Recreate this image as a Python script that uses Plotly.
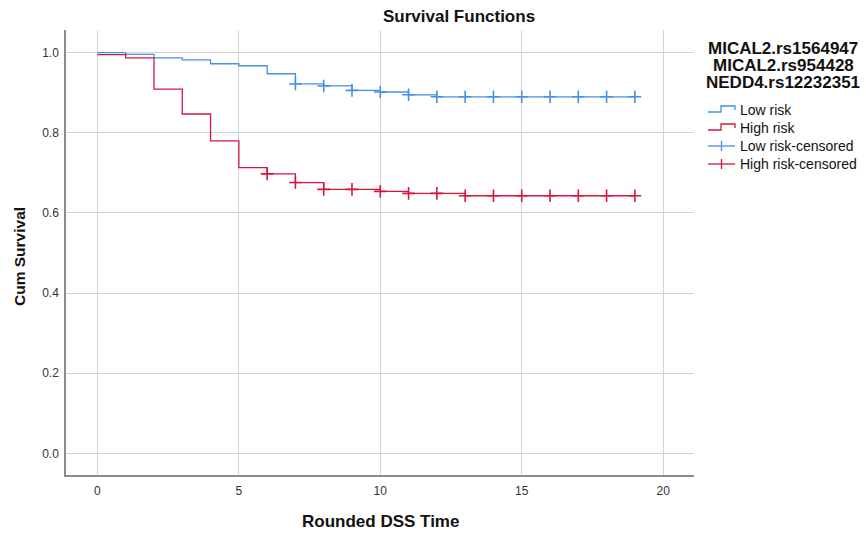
import plotly.graph_objects as go

# ---- data ----
time_points = list(range(0, 20))
low_risk_surv = [1.000, 0.996, 0.987, 0.982, 0.9725, 0.9675, 0.9475, 0.922, 0.917, 0.906,
                 0.902, 0.895, 0.890, 0.890, 0.890, 0.890, 0.890, 0.890, 0.890, 0.890]
high_risk_surv = [0.995, 0.987, 0.909, 0.847, 0.780, 0.713, 0.6975, 0.676, 0.659, 0.659,
                  0.654, 0.649, 0.649, 0.643, 0.643, 0.643, 0.643, 0.643, 0.643, 0.643]
low_risk_censor_times = [7, 8, 9, 10, 11, 12, 13, 14, 15, 16, 17, 18, 19]
high_risk_censor_times = [6, 7, 8, 9, 10, 11, 12, 13, 14, 15, 16, 17, 18, 19]
x_ticks = [0, 5, 10, 15, 20]
y_ticks = [0.0, 0.2, 0.4, 0.6, 0.8, 1.0]
legend_title_lines = ["MICAL2.rs1564947", "MICAL2.rs954428", "NEDD4.rs12232351"]
legend_labels = ["Low risk", "High risk", "Low risk-censored", "High risk-censored"]

BLUE = "#4A90E2"
RED = "#D4173F"
FONT = "Liberation Sans, Arial, sans-serif"

W, H = 866, 533
L, R, T, B = 66, 694, 30, 475  # plot area in pixels


def px(xp):
    return (xp - L) / (R - L)


def py(yp):
    return (B - yp) / (B - T)


def lookup(times, surv, t):
    return surv[times.index(t)]


fig = go.Figure()
fig.add_trace(go.Scatter(x=time_points, y=low_risk_surv, mode="lines",
                         line=dict(color=BLUE, width=1.3, shape="hv"), name=legend_labels[0]))
fig.add_trace(go.Scatter(x=time_points, y=high_risk_surv, mode="lines",
                         line=dict(color=RED, width=1.3, shape="hv"), name=legend_labels[1]))
fig.add_trace(go.Scatter(x=low_risk_censor_times,
                         y=[lookup(time_points, low_risk_surv, t) for t in low_risk_censor_times],
                         mode="markers", name=legend_labels[2],
                         marker=dict(symbol="cross-thin", size=9, line=dict(color=BLUE, width=1.6))))
fig.add_trace(go.Scatter(x=high_risk_censor_times,
                         y=[lookup(time_points, high_risk_surv, t) for t in high_risk_censor_times],
                         mode="markers", name=legend_labels[3],
                         marker=dict(symbol="cross-thin", size=9, line=dict(color=RED, width=1.6))))

annotations = []
shapes = []
# title
annotations.append(dict(text="<b>Survival Functions</b>", x=px(459), y=py(16), xref="paper", yref="paper",
                        showarrow=False, xanchor="center", yanchor="middle",
                        font=dict(family=FONT, size=17, color="#111")))
# legend title
for i, line in enumerate(legend_title_lines):
    annotations.append(dict(text="<b>%s</b>" % line, x=px(783), y=py(48.5 + 16.8 * i), xref="paper", yref="paper",
                            showarrow=False, xanchor="center", yanchor="middle", height=16, valign="middle",
                            font=dict(family=FONT, size=17, color="#111")))
# legend items
item_y = [110, 128, 146, 164]
colors = [BLUE, RED, BLUE, RED]
for i, (lab, yc, col) in enumerate(zip(legend_labels, item_y, colors)):
    annotations.append(dict(text=lab, x=px(738), y=py(yc), xref="paper", yref="paper",
                            showarrow=False, xanchor="left", yanchor="middle",
                            font=dict(family=FONT, size=14, color="#111")))
    if i < 2:
        pts = [(708, yc + 2), (721, yc + 2), (721, yc - 4), (735, yc - 4), (735, yc)]
        path = "M " + " L ".join("%f,%f" % (px(a), py(b)) for a, b in pts)
        shapes.append(dict(type="path", path=path, xref="paper", yref="paper",
                           line=dict(color=col, width=1.3)))
    else:
        shapes.append(dict(type="line", x0=px(708), x1=px(735), y0=py(yc), y1=py(yc),
                           xref="paper", yref="paper", line=dict(color=col, width=1.3)))
        shapes.append(dict(type="line", x0=px(721.5), x1=px(721.5), y0=py(yc - 5), y1=py(yc + 5),
                           xref="paper", yref="paper", line=dict(color=col, width=1.3)))
# axis titles
annotations.append(dict(text="<b>Rounded DSS Time</b>", x=px(380), y=py(521), xref="paper", yref="paper",
                        showarrow=False, xanchor="center", yanchor="middle",
                        font=dict(family=FONT, size=17, color="#111")))
annotations.append(dict(text="<b>Cum Survival</b>", x=px(19), y=py(257), xref="paper", yref="paper",
                        showarrow=False, xanchor="center", yanchor="middle", textangle=-90,
                        font=dict(family=FONT, size=15.5, color="#111")))

fig.update_layout(
    width=W, height=H,
    margin=dict(l=L, r=W - R, t=T, b=H - B, pad=0),
    plot_bgcolor="white", paper_bgcolor="white",
    showlegend=False,
    annotations=annotations, shapes=shapes,
    font=dict(family=FONT, size=12, color="#333"),
)
fig.update_xaxes(range=[-1.11, 21.09], tickvals=x_ticks, ticktext=[str(v) for v in x_ticks],
                 showgrid=True, gridcolor="#D4D4D4", gridwidth=1.3, zeroline=False,
                 showline=True, linecolor="#8C8C8C", linewidth=1.5, ticks="",
                 ticklabelstandoff=4, tickfont=dict(family=FONT, size=12, color="#333"))
fig.update_yaxes(range=[-0.054, 1.0567], tickvals=y_ticks, ticktext=["%.1f" % v for v in y_ticks],
                 showgrid=True, gridcolor="#D4D4D4", gridwidth=1.3, zeroline=False,
                 showline=True, linecolor="#8C8C8C", linewidth=1.5, ticks="",
                 ticklabelstandoff=3, tickfont=dict(family=FONT, size=12, color="#333"))

fig.write_html("out.html", config={"displayModeBar": False},
               post_script="document.body.style.margin='0';document.body.style.overflow='hidden';")
